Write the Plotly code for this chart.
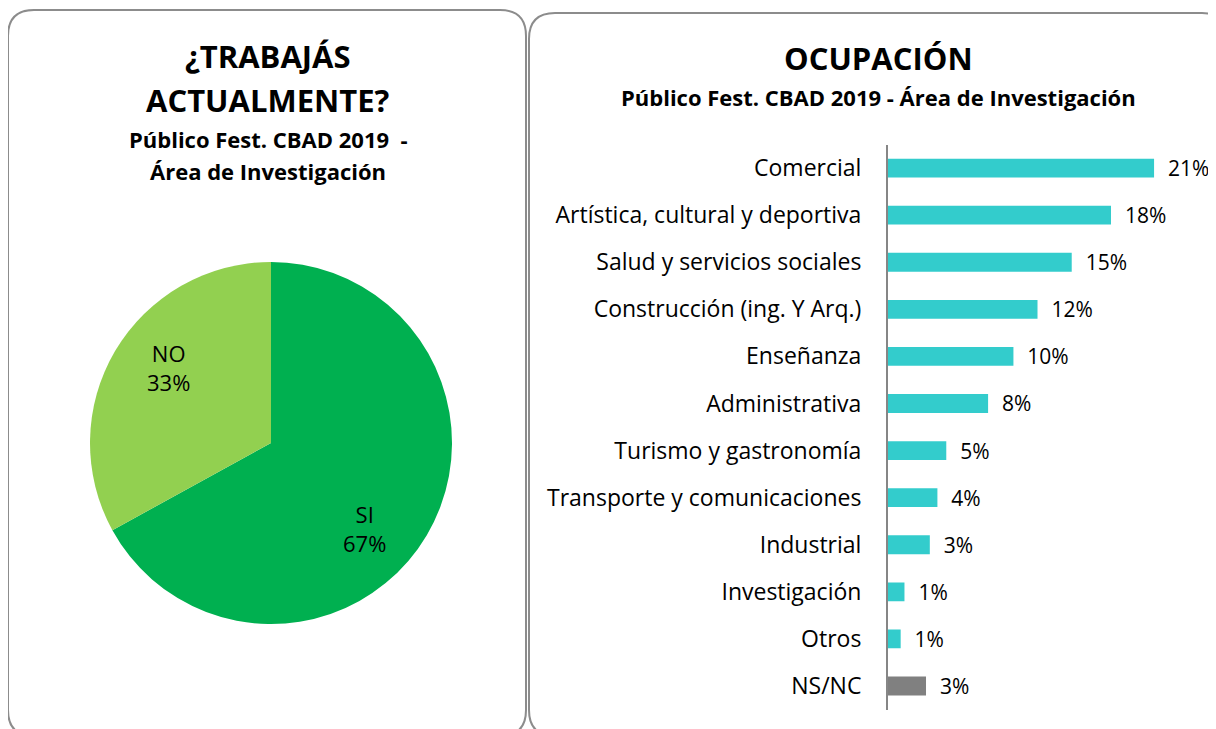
import plotly.graph_objects as go

# ---- data ----
pie_labels = ["SI", "NO"]
pie_values = [67, 33]
pie_colors = ["#00B050", "#92D050"]

categories = ["Comercial", "Artística, cultural y deportiva", "Salud y servicios sociales",
              "Construcción (ing. Y Arq.)", "Enseñanza", "Administrativa",
              "Turismo y gastronomía", "Transporte y comunicaciones", "Industrial",
              "Investigación", "Otros", "NS/NC"]
occ_values = [21.0, 17.6, 14.5, 11.8, 9.9, 7.9, 4.6, 3.9, 3.3, 1.3, 1.0, 3.0]
occ_labels = ["21%", "18%", "15%", "12%", "10%", "8%", "5%", "4%", "3%", "1%", "1%", "3%"]
bar_colors = ["#33CCCC"] * 11 + ["#808080"]

# page body has an 8px margin, so the figure is drawn at (8, 8)
OFF = 8
W, H = 1208, 721
FONT = "Open Sans"

def px(x):
    return (x - OFF) / W

def py(y):
    return 1 - (y - OFF) / H

fig = go.Figure()

# pie centre / radius in page pixels
CX, CY, R = 271, 443, 181
fig.add_trace(go.Pie(
    labels=pie_labels, values=pie_values, sort=False, direction="clockwise",
    rotation=0, marker=dict(colors=pie_colors, line=dict(color="white", width=0)),
    textinfo="none", textposition="none",
    domain=dict(x=[px(CX - R), px(CX + R)], y=[py(CY + R), py(CY - R)]),
    showlegend=False, hoverinfo="label+percent",
))

# pie data labels (Excel "best fit" style placement)
label_pos = {"NO": (169, 367), "SI": (364, 528)}
total = sum(pie_values)
for lab, val in zip(pie_labels, pie_values):
    lx, ly = label_pos[lab]
    fig.add_annotation(text=f"{lab}<br>{round(100 * val / total)}%", x=px(lx), y=py(ly),
                       xref="paper", yref="paper", showarrow=False,
                       xanchor="center", yanchor="middle", align="center",
                       font=dict(family=FONT, size=22, color="#000000"))

fig.add_trace(go.Bar(
    x=occ_values, y=categories, orientation="h",
    marker=dict(color=bar_colors, line=dict(width=0)),
    text=["\u00a0\u00a0" + t for t in occ_labels], textposition="outside",
    constraintext="none",
    textfont=dict(family=FONT, size=21, color="#000000"),
    cliponaxis=False, showlegend=False, xaxis="x", yaxis="y", hoverinfo="y+x",
))

fig.update_layout(
    width=W, height=H, margin=dict(l=0, r=0, t=0, b=0),
    paper_bgcolor="white", plot_bgcolor="white",
    font=dict(family=FONT, color="#000000"),
    bargap=0.6,
    xaxis=dict(domain=[px(888), px(1200)], range=[0, 312 / 12.67], visible=False,
               fixedrange=True),
    yaxis=dict(domain=[py(709.5), py(144.5)], autorange="reversed",
               showline=True, linecolor="#868686", linewidth=2, showgrid=False,
               ticks="", ticklabelstandoff=20, zeroline=False,
               tickfont=dict(family=FONT, size=23, color="#000000")),
)

def rounded_rect(x0, y0, x1, y1, r):
    X = px
    Y = py
    return (f"M {X(x0+r)} {Y(y0)} L {X(x1-r)} {Y(y0)} Q {X(x1)} {Y(y0)} {X(x1)} {Y(y0+r)} "
            f"L {X(x1)} {Y(y1-r)} Q {X(x1)} {Y(y1)} {X(x1-r)} {Y(y1)} "
            f"L {X(x0+r)} {Y(y1)} Q {X(x0)} {Y(y1)} {X(x0)} {Y(y1-r)} "
            f"L {X(x0)} {Y(y0+r)} Q {X(x0)} {Y(y0)} {X(x0+r)} {Y(y0)} Z")

for (x0, y0, x1, y1) in [(8, 10, 526, 736), (529, 13, 1228, 736)]:
    fig.add_shape(type="path", path=rounded_rect(x0, y0, x1, y1, 26),
                  xref="paper", yref="paper", line=dict(color="#8C8C8C", width=2),
                  fillcolor="rgba(0,0,0,0)", layer="below")

def title(text, x, y, size):
    fig.add_annotation(text=text, x=px(x), y=py(y), xref="paper", yref="paper",
                       showarrow=False, xanchor="center", yanchor="middle",
                       font=dict(family=FONT, size=size, color="#000000"))

title("<b>¿TRABAJÁS</b>", 268, 56, 31)
title("<b>ACTUALMENTE?</b>", 268, 100, 31)
title("<b>Público Fest. CBAD 2019  -</b>", 268, 139, 22)
title("<b>Área de Investigación</b>", 268, 171, 22)
title("<b>OCUPACIÓN</b>", 878, 58, 31)
title("<b>Público Fest. CBAD 2019 - Área de Investigación</b>", 878, 97, 22)

fig.write_html("out.html")
